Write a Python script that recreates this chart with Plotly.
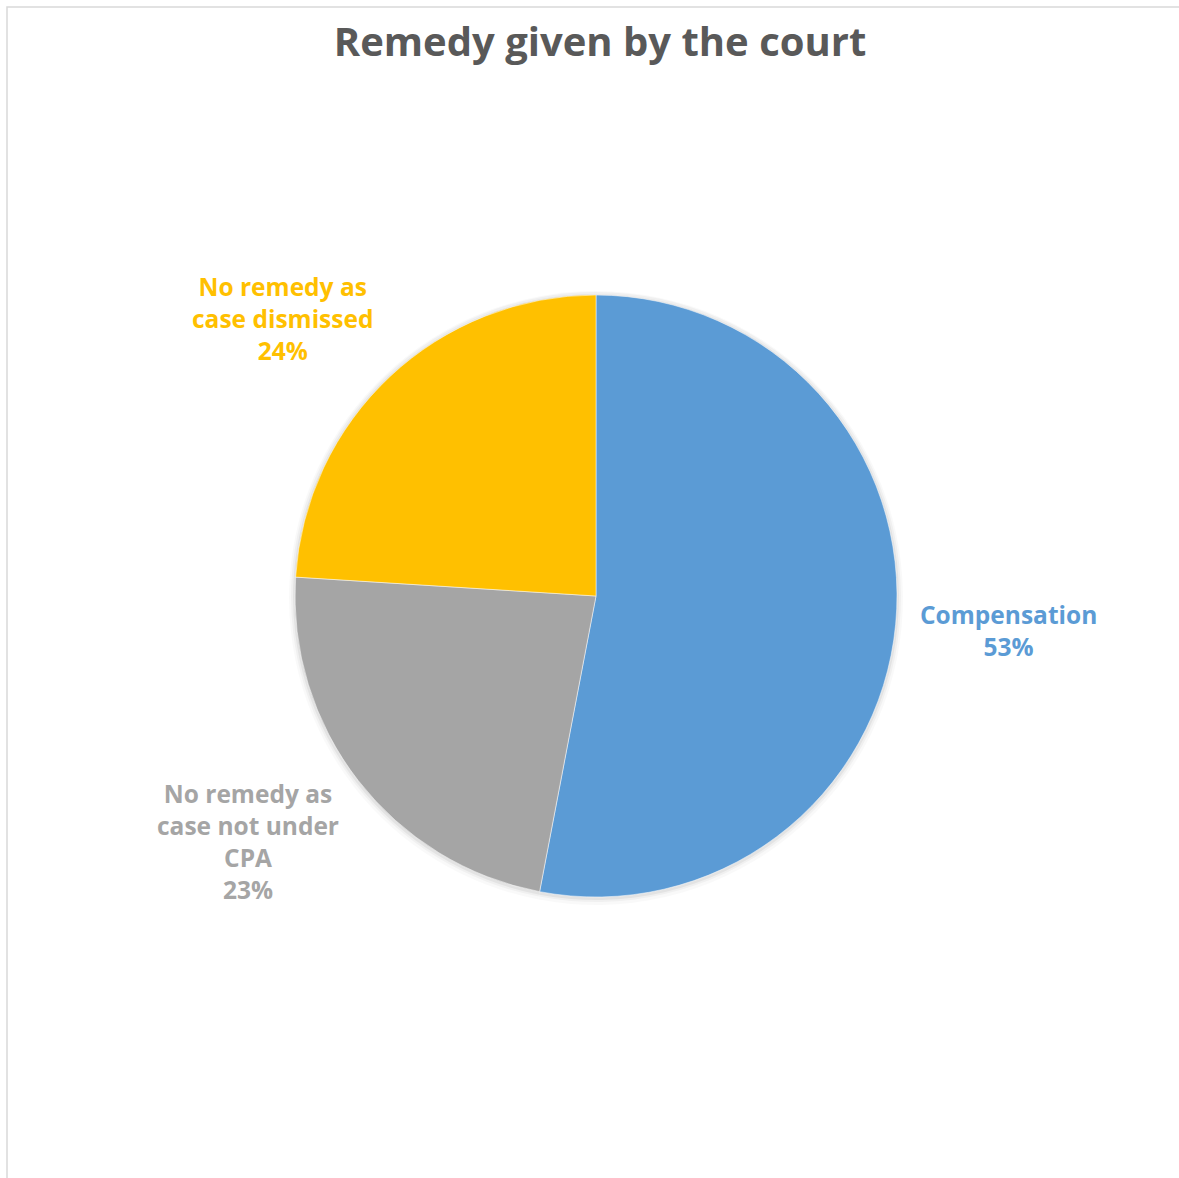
import math
import plotly.graph_objects as go

# Court outcome shares
categories = ["Compensation", "No remedy as<br>case not under<br>CPA", "No remedy as<br>case dismissed"]
shares = [53, 23, 24]
slice_colors = ["#5B9BD5", "#A5A5A5", "#FFC000"]

W, H = 1179, 1178
cx, cy, r = 596, 596, 301  # pie centre and radius in pixels
label_gap = 22             # distance of the labels from the rim
line_h = 31                # label line height in pixels
label_size = 24.5
v_push = 1.25              # how far labels are pushed away from the rim vertically

def dom(cx, cy, r):
    return dict(x=[(cx - r) / W, (cx + r) / W], y=[(H - cy - r) / H, (H - cy + r) / H])

fig = go.Figure()

# soft shadow rings behind the pie
for extra, alpha, dy in [(6, 0.025, 2), (4, 0.035, 1), (2, 0.05, 1)]:
    fig.add_trace(go.Pie(
        values=shares, labels=categories, sort=False, direction="clockwise",
        marker=dict(colors=[f"rgba(0,0,0,{alpha})"] * len(shares), line=dict(width=0)),
        textinfo="none", hoverinfo="skip", showlegend=False,
        domain=dom(cx, cy + dy, r + extra),
    ))

fig.add_trace(go.Pie(
    values=shares, labels=categories, sort=False, direction="clockwise",
    marker=dict(colors=slice_colors, line=dict(color="white", width=0.5)),
    textinfo="none", showlegend=False,
    domain=dom(cx, cy, r),
))

# data labels outside each slice, placed along the slice's mid-angle
total = sum(shares)
cum = 0
for lab, val, col in zip(categories, shares, slice_colors):
    mid = math.radians((cum + val / 2) / total * 360)
    cum += val
    s, c = math.sin(mid), math.cos(mid)
    R = r + label_gap
    px, py = cx + R * s, cy - R * c
    n_lines = lab.count("<br>") + 2
    fig.add_annotation(
        x=px / W, y=(H - py) / H, xref="paper", yref="paper",
        text=f"<b>{lab}<br>{round(val / total * 100)}%</b>",
        showarrow=False, align="center",
        xanchor="left" if s > 0 else "right", yanchor="middle",
        yshift=v_push * c * n_lines * line_h / 2,
        font=dict(family="Open Sans", size=label_size, color=col),
    )

fig.update_layout(
    width=W, height=H,
    margin=dict(l=0, r=0, t=0, b=0),
    paper_bgcolor="white",
    font=dict(family="Open Sans"),
    title=dict(
        text="<b>Remedy given by the court</b>",
        x=600 / W, y=1 - 42 / H, xanchor="center", yanchor="middle",
        font=dict(family="Open Sans", size=40, color="#595959"),
    ),
    shapes=[dict(
        type="rect", xref="paper", yref="paper",
        x0=7 / W, x1=1.02, y0=-0.02, y1=1 - 7 / H,
        line=dict(color="#D9D9D9", width=1.5),
    )],
)

fig.write_html("out.html")
